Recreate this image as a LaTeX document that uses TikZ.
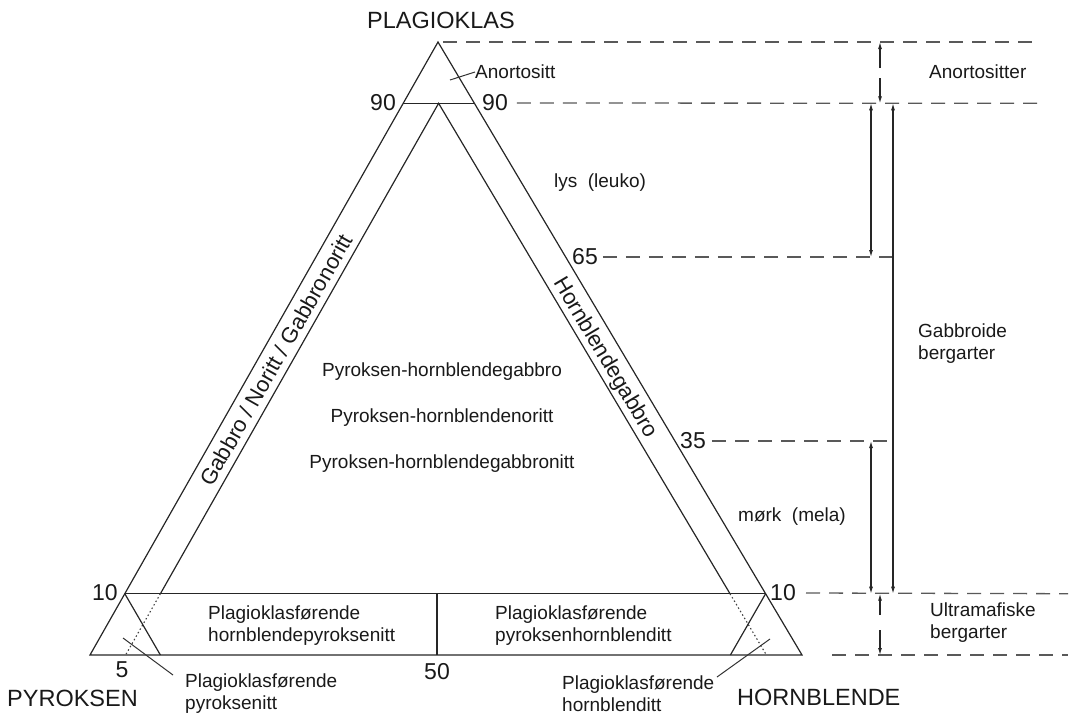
\documentclass[tikz,border=0pt]{standalone}
\usepackage{fontspec}
\setmainfont{Liberation Sans}
\usetikzlibrary{arrows.meta}
\begin{document}
\begin{tikzpicture}[x=1pt,y=-1pt,
  edge/.style={line width=1.2pt,draw=black!85,line join=miter},
  guide/.style={line width=1.3pt,draw=black!65,dash pattern=on 14pt off 9pt},
  hint/.style={line width=1.1pt,draw=black!75,dash pattern=on 1.5pt off 2.5pt},
  leader/.style={line width=1pt,draw=black!80},
  tip/.style={line width=1.1pt,draw=black!85,-{Latex[length=7pt,width=4pt]}},
  span/.style={line width=1.1pt,draw=black!85,{Latex[length=7pt,width=4pt]}-{Latex[length=7pt,width=4pt]}},
  small/.style={font=\fontsize{19}{22}\selectfont,inner sep=0pt,text=black!90},
  num/.style={font=\fontsize{23}{26}\selectfont,inner sep=0pt,text=black!90},
  corner/.style={font=\fontsize{23.5}{26}\selectfont,inner sep=0pt,text=black!90},
  band/.style={font=\fontsize{22}{24}\selectfont,inner sep=0pt,text=black!90}
]
\useasboundingbox (0,0) rectangle (1071,716);

% ternary corners
\coordinate (Pl) at (438,42);
\coordinate (Px) at (90,655);
\coordinate (Hb) at (802,655);
% 90 % and 10 % plagioclase lines
\coordinate (p90l) at (403.2,103.3);
\coordinate (p90r) at (474.4,103.3);
\coordinate (p10l) at (124.8,593.7);
\coordinate (p10r) at (765.6,593.7);
% gabbro field (5 % Px, 5 % Hbl)
\coordinate (gt) at (438.6,103.3);
\coordinate (gl) at (160.4,593.7);
\coordinate (gr) at (730,593.7);
\coordinate (gdl) at (125.6,655);
\coordinate (gdr) at (766.4,655);
% 90 % Px and 90 % Hbl cut-offs
\coordinate (cl) at (160.4,655);
\coordinate (cr) at (730.4,655);
% Px = Hbl divider
\coordinate (m10) at (437,593.7);
\coordinate (m0) at (437,655);

\draw[edge] (Px) -- (Pl) -- (Hb) -- cycle;
\draw[edge] (p90l) -- (p90r);
\draw[edge] (p10l) -- (p10r);
\draw[edge] (gl) -- (gt) -- (gr);
\draw[hint] (gl) -- (gdl);
\draw[hint] (gr) -- (gdr);
\draw[edge] (p10l) -- (cl);
\draw[edge] (p10r) -- (cr);
\draw[edge] (m10) -- (m0);

% corner names
\node[corner] (nPl) at (441,20) {PLAGIOKLAS};
\node[corner,anchor=west] (nPx) at (7,698) {PYROKSEN};
\node[corner,anchor=west] (nHb) at (737,697) {HORNBLENDE};

% scale numbers
\node[num] (n90l) at (383,103) {90};
\node[num] (n90r) at (495,103) {90};
\node[num] (n65) at (585,257) {65};
\node[num] (n35) at (693,441) {35};
\node[num] (n10r) at (783,593) {10};
\node[num] (n10l) at (105,593) {10};
\node[num] (n5) at (122,670) {5};
\node[num] (n50) at (437,672) {50};

% field names
\node[small,anchor=west] (anort) at (475,72) {Anortositt};
\coordinate (anortIn) at (450,80);
\draw[leader] (anortIn) -- (anort.west);

\node[band,rotate=60.4] (gab) at (276,360) {Gabbro / Noritt / Gabbronoritt};
\node[band,rotate=-59.3] (hbg) at (605,358) {Hornblendegabbro};

\node[small] (c1) at (442,372) {Pyroksen-hornblendegabbro};
\node[small] (c2) at (442,418) {Pyroksen-hornblendenoritt};
\node[small] (c3) at (442,464) {Pyroksen-hornblendegabbronitt};

\node[small,align=left,anchor=west] (hpx) at (208,626) {Plagioklasførende\\hornblendepyroksenitt};
\node[small,align=left,anchor=west] (phb) at (495,626) {Plagioklasførende\\pyroksenhornblenditt};

\node[small,align=left,anchor=west] (ppx) at (185,694) {Plagioklasførende\\pyroksenitt};
\node[small,align=left,anchor=west] (phn) at (562,694) {Plagioklasførende\\hornblenditt};
\coordinate (ppxIn) at (123,638);
\coordinate (ppxOut) at (173,675);
\coordinate (phnIn) at (770,639);
\coordinate (phnOut) at (717,677);
\draw[leader] (ppxIn) -- (ppxOut);
\draw[leader] (phnIn) -- (phnOut);

\node[small] (lys) at (600,183) {lys\ \ (leuko)};
\node[small] (mork) at (792,517) {mørk\ \ (mela)};

% guide lines to the right-hand scale
\coordinate (g100a) at (443,42);
\coordinate (g100b) at (1040,42);
\coordinate (g90b) at (1040,103.3);
\coordinate (g65b) at (893,257);
\coordinate (g35b) at (893,441);
\coordinate (g10b) at (1068,593.7);
\coordinate (g0a) at (832,655);
\coordinate (g0b) at (1068,655);
\draw[guide] (g100a) -- (g100b);
\draw[guide] ([xshift=9pt]n90r.east) -- (g90b);
\draw[guide] ([xshift=5pt]n65.east) -- (g65b);
\draw[guide] ([xshift=6pt]n35.east) -- (g35b);
\draw[guide] ([xshift=10pt]n10r.east) -- (g10b);
\draw[guide] (g0a) -- (g0b);

% ranges
\coordinate (aS1) at (880,68);
\coordinate (aE1) at (880,42);
\coordinate (aS2) at (880,78);
\coordinate (aE2) at (880,103.3);
\draw[tip] (aS1) -- (aE1);
\draw[tip] (aS2) -- (aE2);

\coordinate (l90) at (871,103.3);
\coordinate (l65) at (871,257);
\coordinate (d35) at (871,441);
\coordinate (d10) at (871,593.7);
\draw[span] (l90) -- (l65);
\draw[span] (d35) -- (d10);

\coordinate (gb90) at (893,103.3);
\coordinate (gb10) at (893,593.7);
\draw[span] (gb90) -- (gb10);

\coordinate (uS1) at (880,615);
\coordinate (uE1) at (880,593.7);
\coordinate (uS2) at (880,630);
\coordinate (uE2) at (880,655);
\draw[tip] (uS1) -- (uE1);
\draw[tip] (uS2) -- (uE2);

\node[small,anchor=west] (anorts) at (929,72) {Anortositter};
\node[small,align=left,anchor=west] (gabbr) at (918,344) {Gabbroide\\bergarter};
\node[small,align=left,anchor=west] (ultra) at (930,623) {Ultramafiske\\bergarter};
\end{tikzpicture}
\end{document}
